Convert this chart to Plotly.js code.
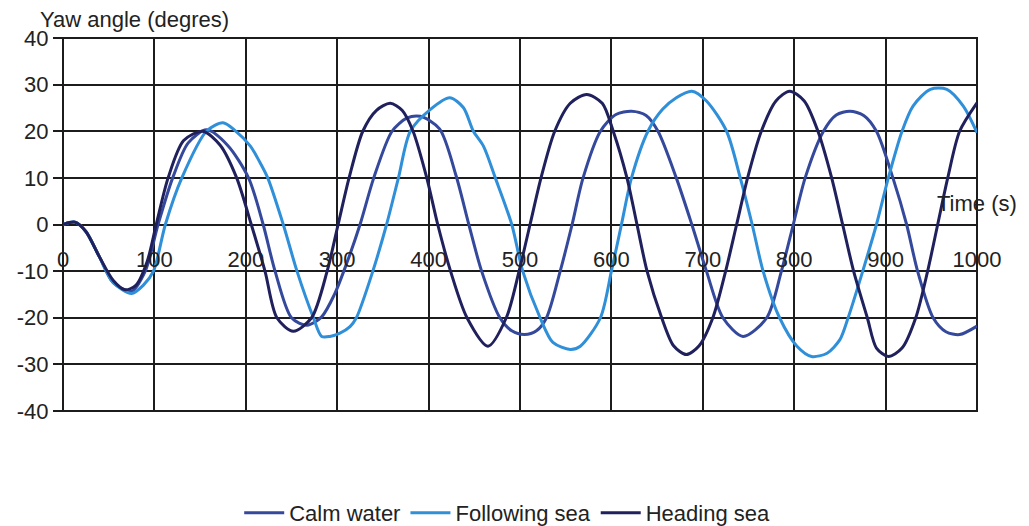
<!DOCTYPE html>
<html>
<head>
<meta charset="utf-8">
<script src="https://cdn.plot.ly/plotly-3.0.1.min.js"></script>
<style>
  html, body { margin: 0; padding: 0; background: #fff; }
  #chart { width: 1029px; height: 526px; }
</style>
</head>
<body>
<div id="chart"></div>
<script>
// Series names
const seriesNames = ["Calm water", "Following sea", "Heading sea"];

// Calm water (time s, yaw deg)
const calmT = [0, 13, 25, 40, 55, 75, 90, 104, 120, 137, 157, 180, 203, 219, 232, 250, 267, 283, 297, 311, 325, 340, 360, 376, 391, 412, 430, 444, 458, 478, 491, 505, 518, 529, 544, 557, 569, 588, 605, 622, 638, 651, 671, 688, 704, 722, 744, 770, 786, 799, 812, 832, 846, 861, 876, 890, 908, 923, 935, 952, 966, 981, 1000];
const calmY = [0, 0.5, -1.5, -7, -12.5, -14.3, -10, 0, 10, 17.5, 20.3, 17, 10, 0, -10, -20, -21.6, -19.8, -15, -8, 0, 10, 20, 22.8, 23.2, 20.5, 10.5, 0, -10, -20, -22.8, -23.6, -22.8, -20, -10, 0, 10, 20, 23.6, 24.3, 23.4, 20, 10, 0, -10, -20, -24, -20, -10, 0, 10, 20, 23.5, 24.3, 23.4, 20, 10, 0, -10, -20, -23, -23.6, -21.8];

// Following sea (time s, yaw deg)
const follT = [0, 13, 25, 40, 55, 75, 88, 99, 112, 130, 157, 175, 188, 205, 215, 224, 241, 256, 274, 283, 292, 303, 314, 321, 339, 354, 367, 380, 402, 423, 438, 449, 460, 473, 491, 503, 522, 536, 555, 566, 588, 600, 611, 622, 640, 656, 671, 688, 704, 726, 741, 754, 766, 784, 803, 819, 836, 850, 859, 875, 890, 903, 918, 930, 949, 967, 985, 1000];
const follY = [0, 0.5, -1.5, -7, -12.5, -14.8, -13, -10, 0, 10, 20, 21.8, 20.2, 16.8, 13.5, 10, 0, -10, -20, -24, -24, -23.3, -21.9, -20, -10, 0, 10, 20, 24.7, 27.2, 25.1, 20, 16.8, 10, 0, -10, -20, -25.3, -26.8, -26.1, -20, -10, 0, 10, 20, 24.7, 27.2, 28.6, 26.5, 20, 10, 0, -10, -20, -26.1, -28.3, -27.6, -24.7, -20, -10, 0, 10, 20, 25.4, 29, 29, 25.4, 19.7];

// Heading sea (time s, yaw deg)
const headT = [0, 13, 25, 40, 55, 68, 80, 92, 102, 115, 132, 153, 172, 190, 206, 221, 234, 252, 272, 289, 301, 313, 328, 343, 358, 371, 383, 398, 410, 424, 442, 465, 485, 499, 511, 523, 538, 555, 573, 590, 602, 617, 628, 639, 655, 668, 682, 696, 711, 725, 737, 749, 764, 780, 795, 811, 826, 841, 853, 865, 880, 890, 903, 918, 933, 946, 957, 968, 981, 1000];
const headY = [0, 0.5, -1.5, -7, -12, -14, -13, -8, 0, 10, 18, 20, 17, 10, 0, -10, -20, -22.9, -20, -10, 0, 10, 20, 24.5, 26, 24.5, 20, 10, 0, -10, -20, -26.1, -20, -10, 0, 10, 20, 26, 27.9, 26, 20, 10, 0, -10, -20, -26, -27.9, -26, -20, -10, 0, 10, 20, 26.5, 28.6, 26.5, 20, 10, 0, -10, -20, -26.5, -28.3, -26.5, -20, -10, 0, 10, 20, 26.1];

// Axis ticks
const xTicks = [0, 100, 200, 300, 400, 500, 600, 700, 800, 900, 1000];
const yTicks = [-40, -30, -20, -10, 0, 10, 20, 30, 40];

const colors = ["#34489c", "#2f8fd8", "#1f205c"];
const FONT = "Liberation Sans, Arial, sans-serif";
const GRID = "#1c1c1c";

const data = [
  {x: calmT, y: calmY, name: seriesNames[0]},
  {x: follT, y: follY, name: seriesNames[1]},
  {x: headT, y: headY, name: seriesNames[2]}
].map((s, i) => Object.assign(s, {
  type: "scatter", mode: "lines",
  line: {color: colors[i], width: 3, shape: "spline", smoothing: 0.8},
  hoverinfo: "skip"
}));

const layout = {
  width: 1029, height: 526,
  margin: {l: 63, r: 52, t: 38, b: 115, autoexpand: false},
  paper_bgcolor: "#ffffff", plot_bgcolor: "#ffffff",
  font: {family: FONT, size: 22, color: "#222"},
  showlegend: true,
  legend: {
    orientation: "h", x: 0.486, xanchor: "center", y: -0.273, yanchor: "middle",
    font: {family: FONT, size: 22, color: "#222"},
    itemwidth: 40, tracegroupgap: 0
  },
  xaxis: {
    range: [0, 1000], tickvals: xTicks, ticktext: xTicks.map(String),
    anchor: "free", position: 0.5,
    showgrid: true, gridcolor: GRID, gridwidth: 2,
    zeroline: false, showline: false, ticks: "",
    ticklabelstandoff: 19,
    tickfont: {family: FONT, size: 22, color: "#222"}
  },
  yaxis: {
    range: [-40, 40], tickvals: yTicks, ticktext: yTicks.map(String),
    showgrid: true, gridcolor: GRID, gridwidth: 2,
    zeroline: true, zerolinecolor: GRID, zerolinewidth: 2,
    showline: false, ticks: "outside", ticklen: 9, tickwidth: 2, tickcolor: GRID,
    tickfont: {family: FONT, size: 22, color: "#222"}
  },
  shapes: [{
    type: "rect", xref: "paper", yref: "paper", x0: 0, x1: 1, y0: 0, y1: 1,
    line: {color: GRID, width: 2}, layer: "below"
  }],
  annotations: [
    {text: "Yaw angle (degres)", xref: "paper", yref: "paper", x: -0.027, y: 1.05,
     xanchor: "left", yanchor: "middle", showarrow: false,
     font: {family: FONT, size: 22, color: "#222"}},
    {text: "Time (s)", xref: "paper", yref: "paper", x: 0.954, y: 0.555,
     xanchor: "left", yanchor: "middle", showarrow: false,
     font: {family: FONT, size: 22, color: "#222"}}
  ]
};

Plotly.newPlot("chart", data, layout, {displayModeBar: false, staticPlot: true});
</script>
</body>
</html>
